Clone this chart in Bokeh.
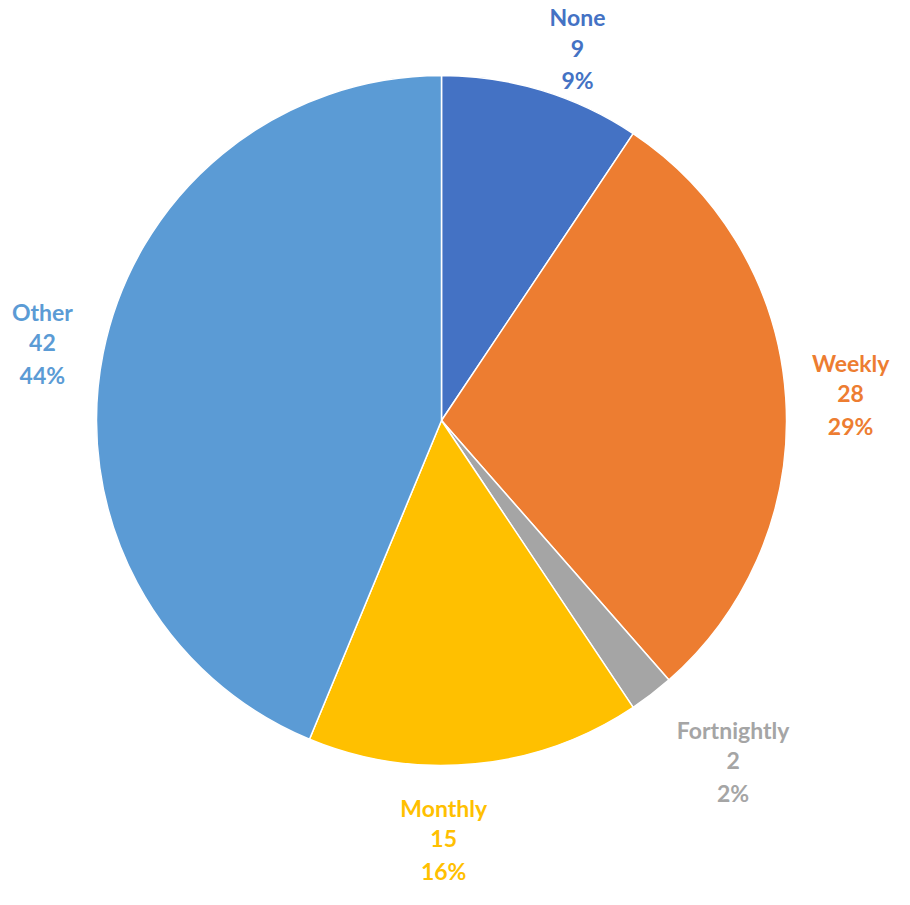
import math
from bokeh.plotting import figure
from bokeh.models import Range1d
from bokeh.core.properties import value
from bokeh.embed import file_html
from bokeh.resources import INLINE

categories = ["None", "Weekly", "Fortnightly", "Monthly", "Other"]
counts = [9, 28, 2, 15, 42]
percent_labels = ["9%", "29%", "2%", "16%", "44%"]
colors = ["#4472C4", "#ED7D31", "#A5A5A5", "#FFC000", "#5B9BD5"]

# layout (screen pixels)
W, H = 894, 889
cx, cy = 441, H - 420
R = 345
label_r = 410
label_nudge = [(17, -20), (0, 0), (42, -15), (-38, -10), (3, -2)]

total = sum(counts)
starts, ends, lx, ly = [], [], [], []
cum = 0
for i, c in enumerate(counts):
    a0 = math.pi / 2 - 2 * math.pi * (cum + c) / total
    a1 = math.pi / 2 - 2 * math.pi * cum / total
    starts.append(a0)
    ends.append(a1)
    mid = (a0 + a1) / 2
    lx.append(cx + label_r * math.cos(mid) + label_nudge[i][0])
    ly.append(cy + label_r * math.sin(mid) + label_nudge[i][1])
    cum += c

p = figure(width=W, height=H, output_backend="svg", toolbar_location=None,
           x_range=Range1d(0, W), y_range=Range1d(0, H), min_border=0)
p.axis.visible = False
p.grid.visible = False
p.outline_line_color = None

p.wedge(x=cx, y=cy, radius=R, start_angle=starts, end_angle=ends,
        fill_color=colors, line_color="white", line_width=1.5)

font = value("Lato")
common = dict(text_font=font, text_font_style="bold", text_font_size="23px",
              text_align="center", text_baseline="middle", text_color=colors)
p.text(x=lx, y=ly, text=categories, y_offset=-31, **common)
p.text(x=lx, y=ly, text=[str(c) for c in counts], y_offset=0, **common)
p.text(x=lx, y=ly, text=percent_labels, y_offset=32, **common)

open("out.html", "w").write(file_html(p, INLINE))
